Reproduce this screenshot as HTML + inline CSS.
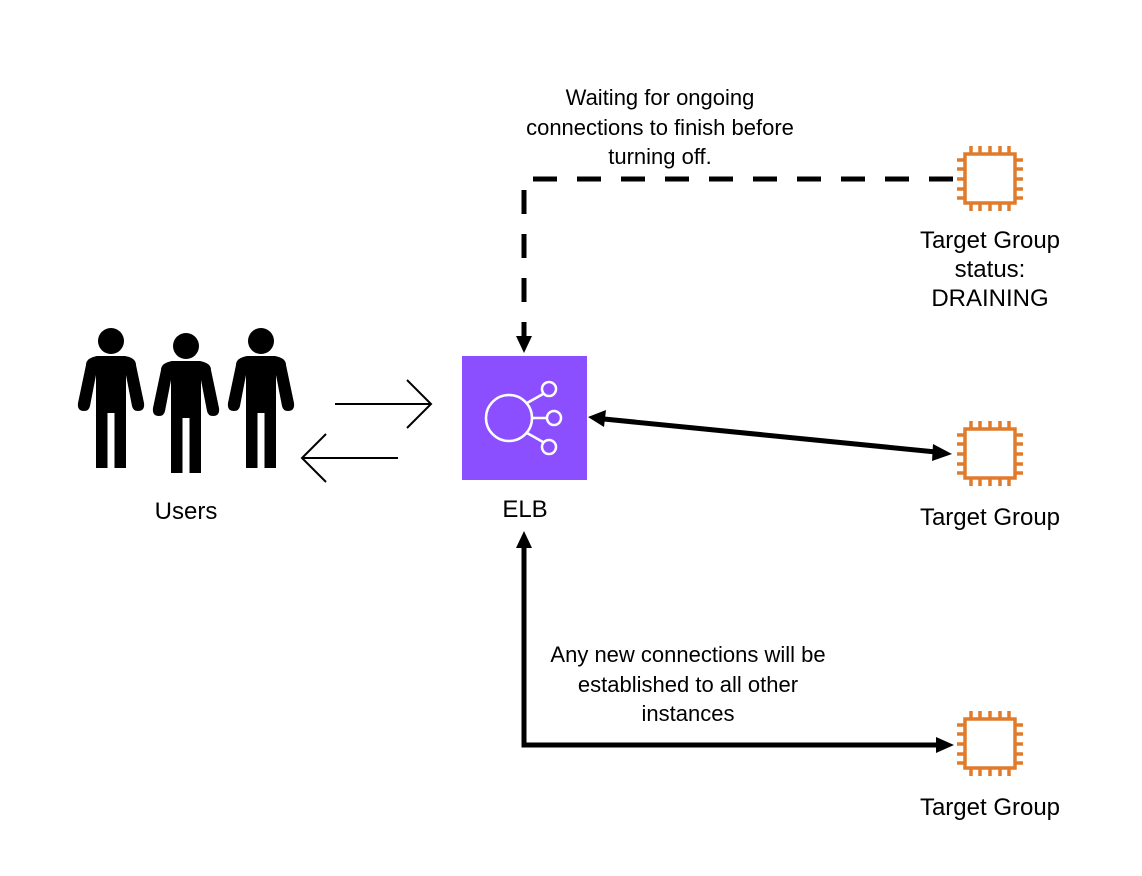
<!DOCTYPE html>
<html><head><meta charset="utf-8"><style>
body{margin:0;background:#fff;}
svg{display:block;}
text{font-family:"Liberation Sans",sans-serif;fill:#000;}
</style></head><body>
<svg width="1142" height="876" viewBox="0 0 1142 876" xmlns="http://www.w3.org/2000/svg">
<defs>
<g id="person">
<circle cx="0" cy="0" r="13"/>
<path d="M-25,24 Q-25,17 -14,15 L14,15 Q25,17 25,24 L33,62 Q34,70 27,70 Q22,70 21,65 L15,34 L15,127 L3.5,127 L3.5,72 L-3.5,72 L-3.5,127 L-15,127 L-15,34 L-21,65 Q-22,70 -27,70 Q-34,70 -33,62 Z"/>
</g>
<g id="chip" fill="none" stroke="#e07b2c" stroke-width="3.5">
<rect x="-25" y="-25" width="50" height="49"/>
<path d="M-19,-25v-8M-10,-25v-8M0,-25v-8M10,-25v-8M19,-25v-8M-19,24v8M-10,24v8M0,24v8M10,24v8M19,24v8M-25,-19h-8M-25,-10h-8M-25,0h-8M-25,10h-8M-25,19h-8M25,-19h8M25,-10h8M25,0h8M25,10h8M25,19h8"/>
</g>
</defs>

<use href="#person" x="111" y="341"/>
<use href="#person" x="186" y="346"/>
<use href="#person" x="261" y="341"/>
<text x="186" y="519" font-size="24" text-anchor="middle">Users</text>

<g stroke="#000" stroke-width="2" fill="none">
<path d="M335,404H430M407,380L431,404L407,428"/>
<path d="M398,458H302M326,434L302,458L326,482"/>
</g>

<rect x="462" y="356" width="125" height="124" fill="#8c4fff"/>
<g stroke="#fff" stroke-width="2.5" fill="none">
<circle cx="509" cy="418" r="23"/>
<circle cx="549" cy="389" r="7"/>
<circle cx="554" cy="418" r="7"/>
<circle cx="549" cy="447" r="7"/>
<path d="M527,403L543,394M532,418H547M527,433L543,442"/>
</g>
<text x="525" y="517" font-size="24" text-anchor="middle">ELB</text>

<use href="#chip" x="990" y="179"/>
<use href="#chip" x="990" y="454"/>
<use href="#chip" x="990" y="744"/>
<g font-size="24" text-anchor="middle">
<text x="990" y="248">Target Group</text>
<text x="990" y="277">status:</text>
<text x="990" y="306">DRAINING</text>
<text x="990" y="525">Target Group</text>
<text x="990" y="815">Target Group</text>
</g>

<path d="M953,179H524V338" stroke="#000" stroke-width="5" fill="none" stroke-dasharray="24,20"/>
<path d="M516,336H532L524,353Z" fill="#000"/>

<path d="M604,419L936,452" stroke="#000" stroke-width="5"/>
<path d="M588,417L606,410L604,427Z" fill="#000"/>
<path d="M952,454L933,444L932,461Z" fill="#000"/>

<path d="M524,546V745H936" stroke="#000" stroke-width="5" fill="none"/>
<path d="M516,548H532L524,531Z" fill="#000"/>
<path d="M936,737V753L954,745Z" fill="#000"/>

<g font-size="22" text-anchor="middle">
<text x="660" y="105">Waiting for ongoing</text>
<text x="660" y="135">connections to finish before</text>
<text x="660" y="164">turning off.</text>
<text x="688" y="662">Any new connections will be</text>
<text x="688" y="692">established to all other</text>
<text x="688" y="721">instances</text>
</g>
</svg>
</body></html>
